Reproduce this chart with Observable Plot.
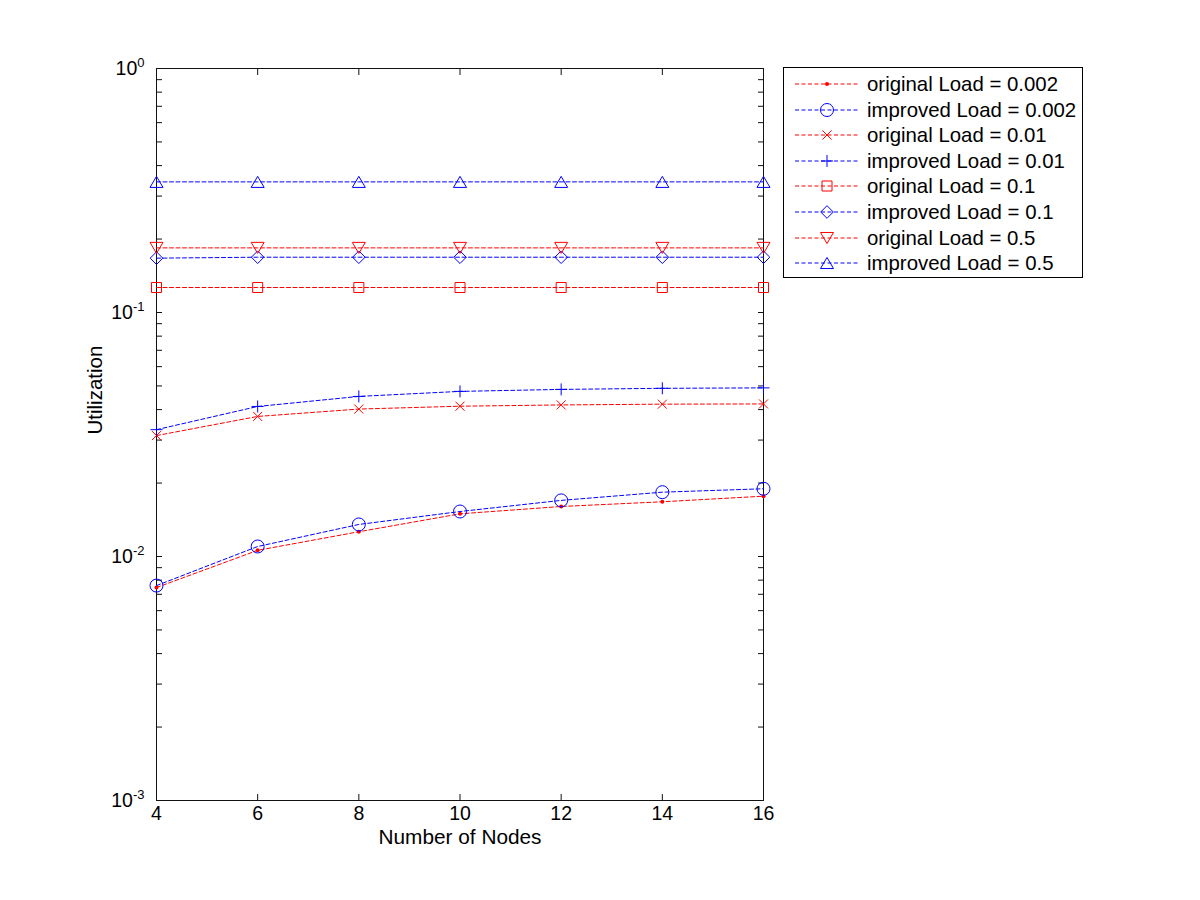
<!DOCTYPE html>
<html>
<head>
<meta charset="utf-8">
<script src="https://cdn.jsdelivr.net/npm/d3@7"></script>
<script src="https://cdn.jsdelivr.net/npm/@observablehq/plot@0.6"></script>
<style>
  body { margin: 0; background: #fff; font-family: "Liberation Sans", Arial, sans-serif; }
  #wrap { position: relative; width: 1200px; height: 900px; display: flex; align-items: flex-start; }
  #legend { position: relative; margin-top: 67px; width: 298px; height: 209px; border: 1px solid #000; background: #fff; }
  .row { position: absolute; left: 0; height: 26px; display: flex; align-items: center; }
  .row span { font-size: 20.4px; line-height: 26px; color: #000; white-space: nowrap; }
</style>
</head>
<body>
<div id="wrap"><div id="chart"></div><div id="legend"></div></div>
<script>
// ---- data ----
const nodes = [4, 6, 8, 10, 12, 14, 16];
const original002 = [0.00746, 0.0106, 0.01263, 0.01496, 0.01603, 0.01676, 0.01767];
const improved002 = [0.0076, 0.01099, 0.01353, 0.01529, 0.01698, 0.01835, 0.01895];
const original01  = [0.0313, 0.0375, 0.0402, 0.0413, 0.0418, 0.0421, 0.0422];
const improved01  = [0.0331, 0.0412, 0.0453, 0.0475, 0.0484, 0.0489, 0.0491];
const original1   = [0.1266, 0.1266, 0.1266, 0.1266, 0.1266, 0.1266, 0.1266];
const improved1   = [0.167, 0.1685, 0.1685, 0.1685, 0.1685, 0.1685, 0.1685];
const original5   = [0.184, 0.184, 0.184, 0.184, 0.184, 0.184, 0.184];
const improved5   = [0.343, 0.343, 0.343, 0.343, 0.343, 0.343, 0.343];
const seriesNames = [
  "original Load = 0.002", "improved Load = 0.002",
  "original Load = 0.01", "improved Load = 0.01",
  "original Load = 0.1", "improved Load = 0.1",
  "original Load = 0.5", "improved Load = 0.5"
];
const seriesValues = [original002, improved002, original01, improved01, original1, improved1, original5, improved5];
const xTicks = [4, 6, 8, 10, 12, 14, 16];
const yMajor = [1e-3, 1e-2, 1e-1, 1];

// ---- marker shapes (unit size from r) ----
const R = size => Math.sqrt(size / Math.PI);
const symDot = {draw(c, s) { const r = R(s); c.moveTo(r, 0); c.arc(0, 0, r, 0, 2 * Math.PI); c.closePath(); }};
const symCircle = symDot;
const symTimes = {draw(c, s) { const r = R(s); c.moveTo(-r, -r); c.lineTo(r, r); c.moveTo(-r, r); c.lineTo(r, -r); }};
const symPlus = {draw(c, s) { const r = R(s); c.moveTo(-r, 0); c.lineTo(r, 0); c.moveTo(0, -r); c.lineTo(0, r); }};
const symSquare = {draw(c, s) { const r = R(s); c.moveTo(-r, -r); c.lineTo(r, -r); c.lineTo(r, r); c.lineTo(-r, r); c.closePath(); }};
const symDiamond = {draw(c, s) { const r = R(s); c.moveTo(0, -r); c.lineTo(r, 0); c.lineTo(0, r); c.lineTo(-r, 0); c.closePath(); }};
const symTriDown = {draw(c, s) { const r = R(s); c.moveTo(-r, -0.85 * r); c.lineTo(r, -0.85 * r); c.lineTo(0, 0.85 * r); c.closePath(); }};
const symTriUp = {draw(c, s) { const r = R(s); c.moveTo(0, -0.85 * r); c.lineTo(r, 0.85 * r); c.lineTo(-r, 0.85 * r); c.closePath(); }};

const RED = "#ff0000", BLUE = "#0000ff";
const styles = [
  {color: RED,  sym: symDot,     r: 2,   filled: true},
  {color: BLUE, sym: symCircle,  r: 6.5},
  {color: RED,  sym: symTimes,   r: 4.5},
  {color: BLUE, sym: symPlus,    r: 6},
  {color: RED,  sym: symSquare,  r: 5},
  {color: BLUE, sym: symDiamond, r: 6.3},
  {color: RED,  sym: symTriDown, r: 6.5},
  {color: BLUE, sym: symTriUp,   r: 6.5}
];
const DASH = "4,2.5";

const yMinor = [];
for (let e = -3; e <= -1; e++) for (let k = 2; k <= 9; k++) yMinor.push(k * Math.pow(10, e));
const yAll = yMajor.concat(yMinor);

const marks = [Plot.frame({stroke: "#111", strokeWidth: 1})];
// inward ticks on all four sides
marks.push(Plot.axisY(yAll, {anchor: "left", tickSize: 6, dx: 6, tickFormat: () => "", label: null, stroke: "#111"}));
marks.push(Plot.axisY(yAll, {anchor: "right", tickSize: 6, dx: -6, tickFormat: () => "", label: null, stroke: "#111"}));
marks.push(Plot.axisY(yMajor, {anchor: "left", tickSize: 0, tickPadding: 12, fontSize: 19,
  tickFormat: d => "10^" + Math.round(Math.log10(d)), label: null}));
marks.push(Plot.axisX(xTicks, {anchor: "bottom", tickSize: 6, dy: -6, tickFormat: () => "", label: null, stroke: "#111"}));
marks.push(Plot.axisX(xTicks, {anchor: "top", tickSize: 6, dy: 6, tickFormat: () => "", label: null, stroke: "#111"}));
marks.push(Plot.text(xTicks, {x: d => d, frameAnchor: "bottom", dy: 19, fontSize: 19.5, fill: "#000"}));
marks.push(Plot.text(["Number of Nodes"], {frameAnchor: "bottom", dy: 43, fontSize: 20.8, fill: "#000"}));
marks.push(Plot.text(["Utilization"], {frameAnchor: "left", dx: -61, rotate: -90, fontSize: 20.5, fill: "#000"}));

seriesNames.forEach((name, si) => {
  const st = styles[si];
  const rows = nodes.map((x, i) => ({x, y: seriesValues[si][i]}));
  marks.push(Plot.line(rows, {x: "x", y: "y", stroke: st.color, strokeWidth: 1, strokeDasharray: DASH}));
  marks.push(Plot.dot(rows, {x: "x", y: "y", symbol: st.sym, r: st.r,
    stroke: st.filled ? "none" : st.color, fill: st.filled ? st.color : "none", strokeWidth: 1}));
});

const chart = Plot.plot({
  width: 783, height: 900,
  marginLeft: 156, marginRight: 20, marginTop: 68, marginBottom: 100,
  x: {domain: [4, 16]},
  y: {type: "log", domain: [1e-3, 1]},
  style: {fontFamily: '"Liberation Sans", Arial, sans-serif', fontSize: "19px", color: "#000", background: "#fff"},
  marks
});

// superscript exponents on y tick labels
chart.querySelectorAll("text").forEach(t => {
  const m = /^10\^(-?\d+)$/.exec(t.textContent);
  if (!m) return;
  t.textContent = "";
  t.setAttribute("font-size", "19.5px");
  t.style.fontSize = "19.5px";
  const ns = "http://www.w3.org/2000/svg";
  const base = document.createElementNS(ns, "tspan");
  base.textContent = "10";
  const sup = document.createElementNS(ns, "tspan");
  sup.textContent = m[1];
  sup.setAttribute("dy", "-0.6em");
  sup.setAttribute("font-size", "13px");
  sup.style.fontSize = "13px";
  t.appendChild(base);
  t.appendChild(sup);
});
document.getElementById("chart").appendChild(chart);

// ---- legend ----
const legend = document.getElementById("legend");
seriesNames.forEach((name, si) => {
  const st = styles[si];
  const row = document.createElement("div");
  row.className = "row";
  row.style.top = (16 + 25.6 * si - 13) + "px";
  const ns = "http://www.w3.org/2000/svg";
  const svg = document.createElementNS(ns, "svg");
  svg.setAttribute("width", 83); svg.setAttribute("height", 26);
  const line = document.createElementNS(ns, "line");
  line.setAttribute("x1", 11); line.setAttribute("x2", 75);
  line.setAttribute("y1", 13); line.setAttribute("y2", 13);
  line.setAttribute("stroke", st.color); line.setAttribute("stroke-width", 1);
  line.setAttribute("stroke-dasharray", DASH);
  svg.appendChild(line);
  const p = document.createElementNS(ns, "path");
  p.setAttribute("d", d3.symbol(st.sym, st.r * st.r * Math.PI)());
  p.setAttribute("transform", "translate(43,13)");
  p.setAttribute("fill", st.filled ? st.color : "none");
  p.setAttribute("stroke", st.filled ? "none" : st.color);
  svg.appendChild(p);
  const span = document.createElement("span");
  span.textContent = name;
  row.appendChild(svg);
  row.appendChild(span);
  legend.appendChild(row);
});
</script>
</body>
</html>
